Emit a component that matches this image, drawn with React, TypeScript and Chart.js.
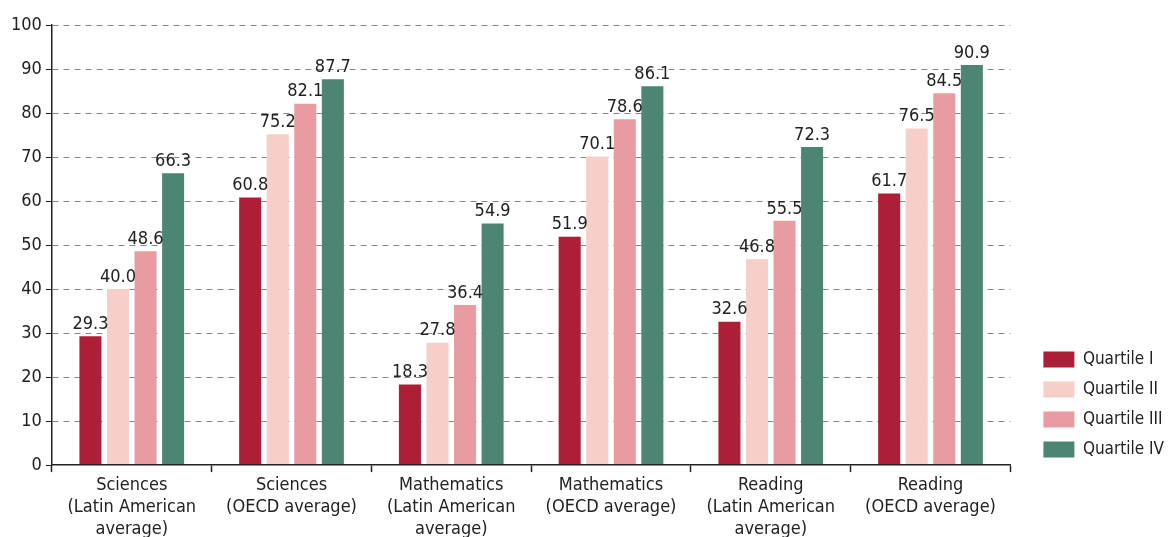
import React, { useEffect, useRef } from "react";
import { Chart, registerables } from "chart.js";

Chart.register(...registerables);

const categories: string[][] = [
  ["Sciences", "(Latin American", "average)"],
  ["Sciences", "(OECD average)"],
  ["Mathematics", "(Latin American", "average)"],
  ["Mathematics", "(OECD average)"],
  ["Reading", "(Latin American", "average)"],
  ["Reading", "(OECD average)"],
];

const seriesNames = ["Quartile I", "Quartile II", "Quartile III", "Quartile IV"];
const quartile1 = [29.3, 60.8, 18.3, 51.9, 32.6, 61.7];
const quartile2 = [40.0, 75.2, 27.8, 70.1, 46.8, 76.5];
const quartile3 = [48.6, 82.1, 36.4, 78.6, 55.5, 84.5];
const quartile4 = [66.3, 87.7, 54.9, 86.1, 72.3, 90.9];
const seriesColors = ["#AD1E37", "#F6CFC8", "#E89BA0", "#4C8573"];

const FONT = "'Liberation Sans Narrow', 'DejaVu Sans Condensed', 'Roboto Condensed', sans-serif";

const valueLabels = {
  id: "valueLabels",
  afterDatasetsDraw(chart: any) {
    const ctx = chart.ctx;
    ctx.save();
    ctx.font = `18px ${FONT}`;
    ctx.fillStyle = "#222";
    ctx.textAlign = "center";
    ctx.textBaseline = "bottom";
    chart.data.datasets.forEach((ds: any, i: number) => {
      const meta = chart.getDatasetMeta(i);
      meta.data.forEach((el: any, j: number) => {
        ctx.fillText(Number(ds.data[j]).toFixed(1), el.x, el.y - 3);
      });
    });
    ctx.restore();
  },
};

const legendNudge = {
  id: "legendNudge",
  afterLayout(chart: any) {
    const l = chart.legend;
    if (l) {
      l.top += 6;
      l.bottom += 6;
    }
  },
};

export default function App() {
  const ref = useRef<HTMLCanvasElement>(null);
  useEffect(() => {
    if (!ref.current) return;
    const all = [quartile1, quartile2, quartile3, quartile4];
    const chart = new Chart(ref.current, {
      type: "bar",
      data: {
        labels: categories,
        datasets: all.map((d, i) => ({
          label: seriesNames[i],
          data: d,
          backgroundColor: seriesColors[i],
          categoryPercentage: 0.69,
          barPercentage: 0.8,
        })),
      },
      options: {
        responsive: false,
        animation: false,
        layout: { padding: { top: 25, right: -6, left: 7, bottom: 0 } },
        plugins: {
          legend: {
            position: "right",
            align: "end",
            fullSize: false,
            labels: {
              boxWidth: 31,
              boxHeight: 16,
              padding: 13,
              color: "#222",
              font: { family: FONT, size: 17 },
            },
          },
          tooltip: { enabled: false },
        },
        scales: {
          x: {
            offset: true,
            grid: {
              offset: true,
              drawOnChartArea: false,
              drawTicks: true,
              tickLength: 7,
              tickColor: "#222",
              tickWidth: 1.5,
            },
            border: { color: "#222", width: 1.5, z: 2 },
            ticks: {
              color: "#222",
              font: { family: FONT, size: 18, lineHeight: 1.22 },
              padding: 2,
              maxRotation: 0,
              autoSkip: false,
            },
          },
          y: {
            min: 0,
            max: 100,
            ticks: {
              stepSize: 10,
              color: "#222",
              font: { family: FONT, size: 18 },
              padding: 4,
            },
            grid: {
              color: (c: any) => (c.tick && c.tick.value === 0 ? "rgba(0,0,0,0)" : "#888"),
              lineWidth: 1,
              tickLength: 6,
              tickColor: "#222",
              tickBorderDash: [],
              drawTicks: true,
            },
            border: { color: "#222", width: 1.5, dash: [6, 5] },
          },
          spacer: {
            position: "right",
            display: true,
            grid: { display: false },
            border: { display: false },
            ticks: { display: false },
            afterFit(scale: any) {
              scale.width = 20;
            },
          },
        },
      },
      plugins: [valueLabels, legendNudge],
    } as any);
    return () => chart.destroy();
  }, []);
  return (
    <div style={{ position: "absolute", left: 0, top: 0, width: 1168, height: 537, overflow: "hidden", background: "#fff" }}>
      <canvas ref={ref} width={1168} height={542} style={{ display: "block" }} />
    </div>
  );
}
